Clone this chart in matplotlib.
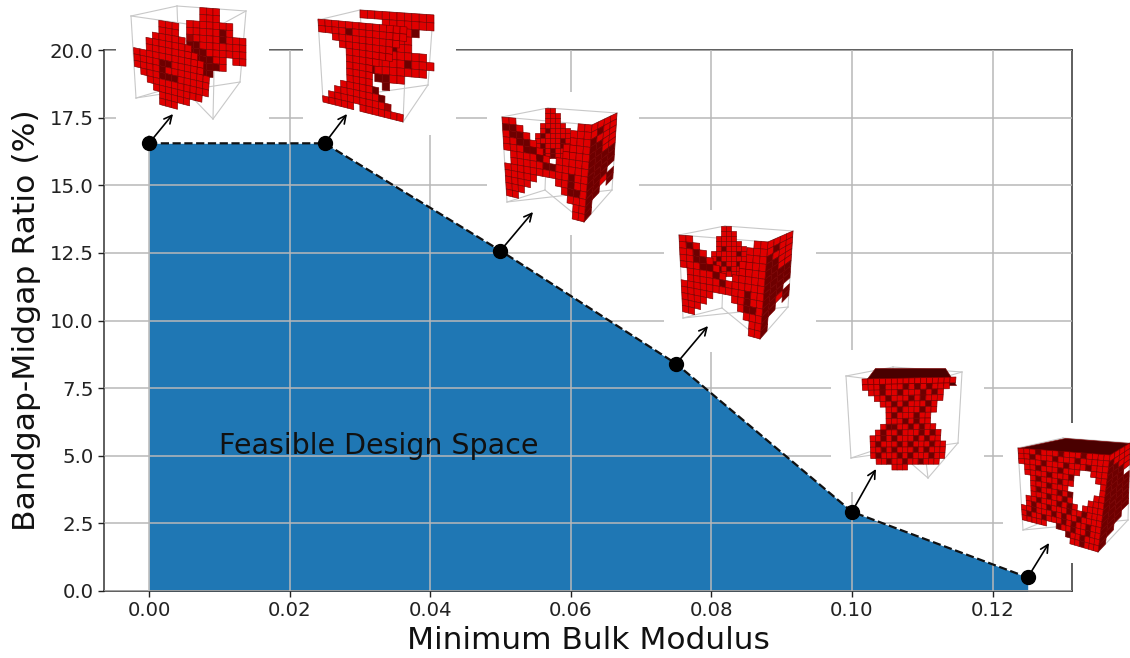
import matplotlib
matplotlib.use('Agg')
import matplotlib.pyplot as plt
from matplotlib.collections import PolyCollection
from matplotlib.patches import Rectangle

# chart data
bulk_modulus = [0.0, 0.025, 0.05, 0.075, 0.1, 0.125]
bandgap_ratio = [16.55, 16.55, 12.58, 8.4, 2.93, 0.5]
x_ticks = [0.0, 0.02, 0.04, 0.06, 0.08, 0.10, 0.12]
x_tick_labels = ['0.00', '0.02', '0.04', '0.06', '0.08', '0.10', '0.12']
y_ticks = [0.0, 2.5, 5.0, 7.5, 10.0, 12.5, 15.0, 17.5, 20.0]
y_tick_labels = ['0.0', '2.5', '5.0', '7.5', '10.0', '12.5', '15.0', '17.5', '20.0']

# arrow tips, in picture pixels
arrow_tips = [(173, 114), (347, 114), (533, 212), (708, 326), (876, 469), (1049, 543)]

# white boxes behind the structures: x0, y0, x1, y1
white_boxes = [(116, 0, 269, 135), (303, 0, 456, 135), (487, 92, 639, 235),
               (664, 210, 816, 352), (831, 350, 984, 492), (1003, 423, 1130, 563)]

# wire cubes: top four corners then bottom four corners
cubes = [
    [(131, 16), (177, 6), (246, 11), (215, 28), (136, 98), (180, 85), (240, 82), (213, 119)],
    [(318, 20), (360, 10), (433, 15), (407, 27), (323, 100), (365, 88), (428, 85), (403, 122)],
    [(502, 117), (548, 108), (617, 113), (592, 125), (507, 202), (545, 190), (612, 190), (584, 222)],
    [(679, 235), (725, 226), (793, 231), (768, 242), (683, 318), (722, 308), (788, 307), (760, 339)],
    [(846, 376), (893, 367), (962, 372), (917, 385), (851, 458), (890, 445), (958, 443), (928, 478)],
    [(1018, 448), (1063, 438), (1130, 443), (1110, 455), (1023, 530), (1060, 515), (1128, 520), (1098, 552)],
]

# voxel masks: # red, d dark, m mid, t top shade
s1_back = ["...###....", "...###....", ".#######..", ".#####d#..", ".m####d###",
           ".dd#######", ".ddd######", ".dddd##.##", "..dddd#...", "...dd....."]
s1_front = ["....###......", "....###......", "...#####.....", "..#######....", "..########...",
            "###########..", "####dd#####..", "####d#######.", ".###ddd#####.", "..##########.",
            "...########..", "....#####....", "....###......"]
s2_back = ["##########", "...#######", "....d##d..", "....d##...", "....d##...",
           "..#######.", ".#####d###", ".d#######.", "..dd##....", "...d......"]
s2_front = ["#############", "####d########", "..##########.", "...########..", "....#######..",
            "....#####....", "....####.....", "....####.....", "....####.....", "...#####d....",
            "..#######d...", ".#########m..", "#####.#######"]
s3_back = ["...##....", "...###...", "...###...", "..#####..", "..#d####.",
           ".#d#####.", ".#####d##", "##d###d##", "#dd#d####", ".dd#d###."]
s3_side = ["####", "#d##", "d###", "dd##", "dd##", "dddd", "dddd", "dddd", "ddd.", "dd#d", "dd.d", "d...", "d..."]
s3_front = ["##.........##", "dd#.......###", "#dd#......###", "##dd#....####", "###dd#...####",
            ".####d#.#####", ".#####dd#####", "##########d##", "#####...##d##", "####.....#dd#",
            "###.......###", "##.........##", "...........##"]
s4_back = ["...##....", "...###...", "..####...", "..#####..", "..#d####.",
           ".#####d#.", ".#d#####.", "#d#d##d##", "#dd#d####", ".dd#####."]
s4_side = ["####", "#d##", "d###", "dd##", "dd##", "dddd", "dddd", "dddd", "ddd.", "dd#d", "dd.d", "d...", "d..."]
s4_front = ["##.........##", "#d#.......###", "##d#......###", "##dd#....####", "###dd#...####",
            ".####d#.#####", ".#####d######", "##########d##", "#####...##d##", "####.....#dd#",
            "###.......###", "##.........##", "...........##"]
s5_top = ["t"]
s5_front = ["################", "###d###d#d#d###.", ".##d##d###d#d#..", "..##d###d#d###..",
            "...##d#d###d#...", "....##d###d##...", "....#d###d##....", "....###d#d##....",
            "...#dd##d#d##...", "..#d##d###d#d#..", ".##d#d###d#d##..", ".#d###d#d###d##.",
            ".##d#d###d#d###.", ".#d###d#d###d##.", "..##d##d##d###..", ".....###........"]
s6_top = ["t"]
s6_side = ["####", "d###", "dd##", "ddd#", "ddd.", "dddd", "dddd", "dddd", "dddd", "dddd", "dddd", "ddd.", "dd..", "d..."]
s6_front = ["###d###d###d####", "##d###d###d#####", "####d###d###d###", ".##d###d###..###",
            ".####d###d....##", "..#d###d##.....#", "..###d###......#", "..#d###d#d....##",
            "..###d##d#...###", ".##d###d#d#.####", ".#d##d###d##d###", "##d###d#d##d####",
            "#d##d###d#d##d##", "#####..d##d##d##", ".........d##d###", "..........##d###"]

# each structure: masks with the corners of their face (TL, TR, BR, BL)
structures = [
    [(s1_back, [(180, 6), (246, 11), (246, 80), (180, 75)]),
     (s1_front, [(132, 16), (219, 30), (213, 119), (136, 98)])],
    [(s2_back, [(360, 10), (434, 15), (434, 95), (360, 88)]),
     (s2_front, [(318, 19), (407, 27), (403, 122), (323, 102)])],
    [(s3_back, [(530, 108), (575, 108), (575, 158), (530, 158)]),
     (s3_side, [(592, 125), (617, 113), (612, 190), (584, 222)]),
     (s3_front, [(502, 117), (592, 125), (584, 222), (507, 202)])],
    [(s4_back, [(706, 226), (751, 226), (751, 276), (706, 276)]),
     (s4_side, [(768, 242), (793, 231), (788, 307), (760, 339)]),
     (s4_front, [(679, 235), (768, 242), (760, 339), (683, 318)])],
    [(s5_top, [(875, 368), (945, 368), (956, 385), (862, 385)]),
     (s5_front, [(862, 379), (956, 377), (949, 470), (866, 470)])],
    [(s6_top, [(1018, 448), (1065, 438), (1130, 443), (1110, 456)]),
     (s6_side, [(1110, 455), (1130, 443), (1128, 520), (1098, 552)]),
     (s6_front, [(1018, 448), (1110, 455), (1098, 552), (1023, 530)])],
]

voxel_colors = {'#': '#e00000', 'd': '#6e0000', 'm': '#a00000', 't': '#4a0000'}


def lerp(p, q, t):
    return (p[0] + (q[0] - p[0]) * t, p[1] + (q[1] - p[1]) * t)


def face_point(quad, u, v):
    return lerp(lerp(quad[0], quad[1], u), lerp(quad[3], quad[2], u), v)


def draw_face(ax, mask, quad, zorder):
    polys, colors = [], []
    n_rows, n_cols = len(mask), len(mask[0])
    for r, row in enumerate(mask):
        for c, cell in enumerate(row):
            if cell == '.':
                continue
            polys.append([face_point(quad, c / n_cols, r / n_rows),
                          face_point(quad, (c + 1) / n_cols, r / n_rows),
                          face_point(quad, (c + 1) / n_cols, (r + 1) / n_rows),
                          face_point(quad, c / n_cols, (r + 1) / n_rows)])
            colors.append(voxel_colors[cell])
    ax.add_collection(PolyCollection(polys, facecolors=colors, edgecolors='#7a0000',
                                     linewidths=0.45, zorder=zorder))


fig = plt.figure(figsize=(11.3, 6.58), dpi=100)
ax = fig.add_axes([104 / 1130, 1 - 591 / 658, (1072 - 104) / 1130, (591 - 50) / 658])

ax.fill_between(bulk_modulus, bandgap_ratio, 0, color='#1f77b4', linewidth=0, zorder=1)
ax.plot(bulk_modulus, bandgap_ratio, color='#111111', linestyle='--', linewidth=1.6, zorder=3)
ax.plot(bulk_modulus, bandgap_ratio, 'o', color='black', markersize=10, zorder=4)
ax.grid(True, color='#b8b8b8', linewidth=1.1, zorder=2)
ax.set_axisbelow(False)
ax.set_xlim(-0.0064, 0.1313)
ax.set_ylim(0, 20)
ax.set_xticks(x_ticks)
ax.set_xticklabels(x_tick_labels)
ax.set_yticks(y_ticks)
ax.set_yticklabels(y_tick_labels)
ax.tick_params(labelsize=14.2, length=4, width=1.0, color='#222222', labelcolor='#222222')
ax.set_xlabel('Minimum Bulk Modulus', fontsize=22.5, color='#111111', labelpad=4)
ax.set_ylabel('Bandgap-Midgap Ratio (%)', fontsize=22.6, color='#111111', labelpad=6)
ax.text(0.01, 5.35, 'Feasible Design Space', fontsize=20.5, color='#111111', va='center', zorder=5)
for side in ax.spines.values():
    side.set_linewidth(1.1)
    side.set_color('#333333')

# overlay in picture pixels for the structures
over = fig.add_axes([0, 0, 1, 1])
over.set_xlim(0, 1130)
over.set_ylim(658, 0)
over.axis('off')

for x0, y0, x1, y1 in white_boxes:
    over.add_patch(Rectangle((x0, y0), x1 - x0, y1 - y0, facecolor='white', edgecolor='none', zorder=1))

for cube in cubes:
    for a, b in [(0, 1), (1, 2), (2, 3), (3, 0), (4, 5), (5, 7), (7, 6), (6, 4), (0, 4), (1, 5), (2, 6), (3, 7)]:
        over.plot([cube[a][0], cube[b][0]], [cube[a][1], cube[b][1]], color='#c8c8c8', linewidth=0.8, zorder=2)

for parts in structures:
    for mask, quad in parts:
        draw_face(over, mask, quad, 3)

for px, py, tip in zip(bulk_modulus, bandgap_ratio, arrow_tips):
    over.annotate('', xy=tip, xycoords='data', xytext=(px, py), textcoords=ax.transData,
                  arrowprops=dict(arrowstyle='->', color='black', lw=1.2, shrinkA=0, shrinkB=0,
                                  mutation_scale=14), zorder=5)

fig.savefig('out.png', dpi=100)
